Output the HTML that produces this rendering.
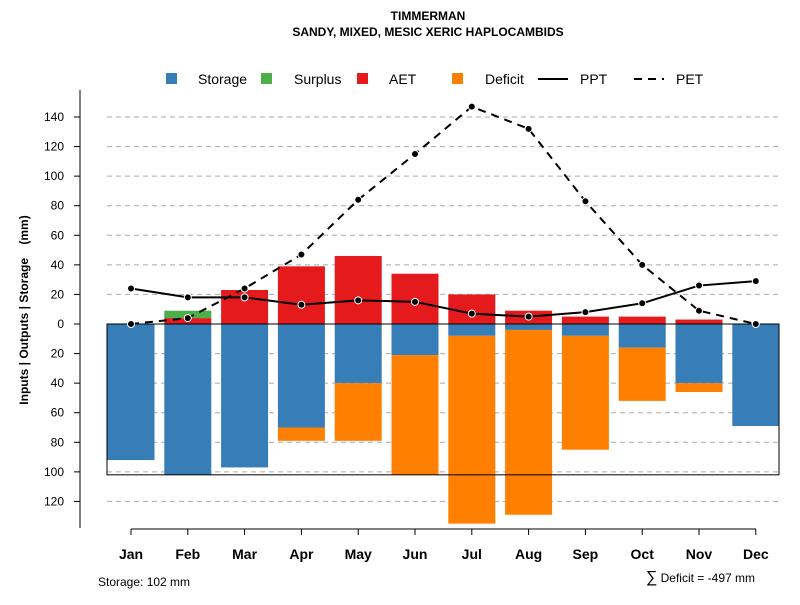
<!DOCTYPE html>
<html><head><meta charset="utf-8"><style>
body{margin:0;background:#fff}
svg{font-family:"Liberation Sans",sans-serif}
</style></head><body>
<svg id="c" width="800" height="600" xmlns="http://www.w3.org/2000/svg">
<text x="428" y="20" text-anchor="middle" font-size="12" font-weight="bold">TIMMERMAN</text>
<text x="428" y="36" text-anchor="middle" font-size="12" font-weight="bold">SANDY, MIXED, MESIC XERIC HAPLOCAMBIDS</text>
<text transform="translate(28,310) rotate(-90)" text-anchor="middle" font-size="12" font-weight="bold" xml:space="preserve" style="white-space:pre">Inputs | Outputs | Storage    (mm)</text>
<g id="grid"></g><g id="bars"></g><g id="lines"></g><g id="axes"></g>
<g font-size="14">
<rect x="166" y="73" width="11" height="11" fill="#377eb8"/><text x="198" y="84">Storage</text>
<rect x="261" y="73" width="11" height="11" fill="#4daf4a"/><text x="294" y="84">Surplus</text>
<rect x="357" y="73" width="11" height="11" fill="#e41a1c"/><text x="389" y="84">AET</text>
<rect x="452" y="73" width="11" height="11" fill="#ff7f00"/><text x="485" y="84">Deficit</text>
<line x1="538" y1="79" x2="568" y2="79" stroke="#000" stroke-width="2"/><text x="580" y="84">PPT</text>
<line x1="634" y1="79" x2="664" y2="79" stroke="#000" stroke-width="2" stroke-dasharray="8,6"/><text x="676" y="84">PET</text>
</g>
<text x="98" y="586" font-size="12">Storage: 102 mm</text>
<text x="755" y="582" text-anchor="end" font-size="12"><tspan font-size="16">∑</tspan> Deficit = -497 mm</text>
</svg>
<script>
const months=["Jan","Feb","Mar","Apr","May","Jun","Jul","Aug","Sep","Oct","Nov","Dec"];
const storage=[92,102,97,70,40,21,8,4,8,16,40,69];
const deficit=[0,0,0,9,39,81,127,125,77,36,6,0];
const aet=[0,4,23,39,46,34,20,9,5,5,3,0];
const surplus=[0,5,0,0,0,0,0,0,0,0,0,0];
const ppt=[24,18,18,13,16,15,7,5,8,14,26,29];
const pet=[0,4,24,47,84,115,147,132,83,40,9,0];
const ticks=[140,120,100,80,60,40,20,0,20,40,60,80,100,120];
const tickVals=[140,120,100,80,60,40,20,0,-20,-40,-60,-80,-100,-120];
const maxStorage=102;
const NS="http://www.w3.org/2000/svg";
const y=v=>324-v*1.4786;
const x=i=>131+i*56.8;
function mk(t,a,p){const e=document.createElementNS(NS,t);for(const k in a)e.setAttribute(k,a[k]);document.getElementById(p).appendChild(e);return e;}
tickVals.forEach((v,i)=>{
 if(v!==0){const g=mk('line',{x1:107,x2:780,y1:y(v),y2:y(v),stroke:'#aaa','stroke-dasharray':'5,4'},'grid');
 
 }
 const t=mk('line',{x1:74,x2:80,y1:y(v),y2:y(v),stroke:'#000'},'axes');
 
 
 const l=mk('text',{x:64,y:y(v)+4,'text-anchor':'end','font-size':12},'axes');l.textContent=ticks[i];
 
 
});
const w=47;
months.forEach((m,i)=>{
 const bx=x(i)-w/2;
 const s=mk('rect',{x:bx,y:y(0),width:w,height:y(-storage[i])-y(0),fill:'#377eb8'},'bars');
 
 
 if(deficit[i]>0){const d=mk('rect',{x:bx,y:y(-storage[i]),width:w,height:y(-storage[i]-deficit[i])-y(-storage[i]),fill:'#ff7f00'},'bars');
 
 }
 if(aet[i]>0){const a=mk('rect',{x:bx,y:y(aet[i]),width:w,height:y(0)-y(aet[i]),fill:'#e41a1c'},'bars');
 
 }
 if(surplus[i]>0){const u=mk('rect',{x:bx,y:y(aet[i]+surplus[i]),width:w,height:y(aet[i])-y(aet[i]+surplus[i]),fill:'#4daf4a'},'bars');
 
 }
 const t=mk('line',{x1:x(i),x2:x(i),y1:529,y2:535,stroke:'#000'},'axes');
 
 
 const l=mk('text',{x:x(i),y:559,'text-anchor':'middle','font-size':14,'font-weight':'bold'},'axes');l.textContent=m;
 
 
});
const box=mk('rect',{x:107,y:y(0),width:672,height:y(-maxStorage)-y(0),fill:'none',stroke:'#000'},'bars');


const ax=mk('line',{x1:80,x2:80,y1:90,y2:528,stroke:'#000'},'axes');


const xa=mk('line',{x1:131,x2:756,y1:529,y2:529,stroke:'#000'},'axes');


[[ppt,'ppt',''],[pet,'pet','8,6']].forEach(([d,n,da])=>{
 const p=mk('polyline',{points:d.map((v,i)=>x(i)+','+y(v)).join(' '),fill:'none',stroke:'#000','stroke-width':2,'stroke-dasharray':da},'lines');
 
 
 d.forEach((v,i)=>{const c=mk('circle',{cx:x(i),cy:y(v),r:3.5,fill:'#000',stroke:'#fff','stroke-width':1},'lines');
 
 });
});
</script>
</body></html>
